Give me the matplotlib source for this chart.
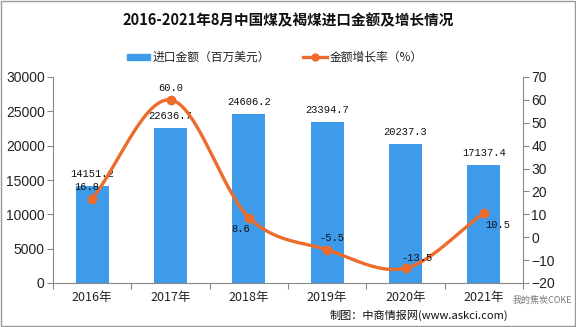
import numpy as np
import matplotlib
matplotlib.use("Agg")
import matplotlib.pyplot as plt
from matplotlib.patches import Rectangle

plt.rcParams['font.family'] = ['Noto Sans CJK SC', 'DejaVu Sans']

categories = ["2016年", "2017年", "2018年", "2019年", "2020年", "2021年"]
import_value = [14151.2, 22636.7, 24606.2, 23394.7, 20237.3, 17137.4]
growth_rate = [16.8, 60.0, 8.6, -5.5, -13.5, 10.5]
left_ticks = [0, 5000, 10000, 15000, 20000, 25000, 30000]
right_ticks = [-20, -10, 0, 10, 20, 30, 40, 50, 60, 70]

bar_color = "#3d9be9"
line_color = "#ee6c2b"

fig = plt.figure(figsize=(5.76, 3.27), dpi=100)
ax = fig.add_axes([53/576, 1-283/327, 470/576, 206/327])
x = np.arange(len(categories))
ax.bar(x, import_value, width=0.42, color=bar_color, zorder=2)
ax.set_xlim(-0.5, len(categories)-0.5)
ax.set_ylim(0, 30000)
ax.set_yticks(left_ticks)
ax.set_yticklabels([str(t) for t in left_ticks], family='Liberation Sans', fontsize=10, color='#222222')

ax.set_xticks(np.arange(-0.5, len(categories), 1.0))
ax.set_xticklabels([])
ax.set_xticks(x, minor=True)
ax.set_xticklabels(categories, minor=True, fontsize=9, color='#222222')
ax.tick_params(axis='x', which='major', length=4, color='#888888', direction='out')
ax.tick_params(axis='x', which='minor', length=0, pad=6)
ax.tick_params(axis='y', length=4, color='#888888', direction='out', pad=2)

for s in ['top', 'right']:
    ax.spines[s].set_visible(False)
for s in ['left', 'bottom']:
    ax.spines[s].set_color('#888888')

ax2 = ax.twinx()
ax2.set_ylim(-20, 70)
ax2.set_yticks(right_ticks)
ax2.set_yticklabels([str(t).replace('-', '−') for t in right_ticks], family='Liberation Sans', fontsize=10, color='#222222')
ax2.tick_params(axis='y', length=4, color='#888888', direction='out', pad=2)
for s in ['top', 'left', 'bottom']:
    ax2.spines[s].set_visible(False)
ax2.spines['right'].set_color('#888888')

# smooth (Catmull-Rom) rendering of the growth line through the data points
def catmull_rom(xs, ys, n=40):
    xs = np.asarray(xs, float); ys = np.asarray(ys, float)
    px = np.concatenate([[2*xs[0]-xs[1]], xs, [2*xs[-1]-xs[-2]]])
    py = np.concatenate([[2*ys[0]-ys[1]], ys, [2*ys[-1]-ys[-2]]])
    outx, outy = [], []
    for i in range(1, len(px)-2):
        t = np.linspace(0, 1, n)
        for arr, out in ((px, outx), (py, outy)):
            p0, p1, p2, p3 = arr[i-1], arr[i], arr[i+1], arr[i+2]
            out.extend(0.5*((2*p1) + (-p0+p2)*t + (2*p0-5*p1+4*p2-p3)*t**2 + (-p0+3*p1-3*p2+p3)*t**3))
    return np.array(outx), np.array(outy)

sx, sy = catmull_rom(x, growth_rate)
ax2.plot(sx, sy, color=line_color, lw=2.4, zorder=3, solid_capstyle='round')
ax2.plot(x, growth_rate, 'o', color=line_color, ms=6, zorder=4)

mono = 'Liberation Mono'
for xi, v in zip(x, import_value):
    ax.annotate(f"{v:.1f}", (xi, v), xytext=(0, 5), textcoords='offset points',
                ha='center', va='bottom', family=mono, fontsize=7.5, color='#111111', zorder=5)

offsets = [(-4, 5, 'bottom'), (0, 5, 'bottom'), (-6, -5, 'top'), (3, 5, 'bottom'), (8, 4, 'bottom'), (10, -5, 'top')]
for xi, v, (dx, dy, va) in zip(x, growth_rate, offsets):
    ax2.annotate(f"{v:.1f}", (xi, v), xytext=(dx, dy), textcoords='offset points',
                 ha='center', va=va, family=mono, fontsize=7.5, color='#111111', zorder=5)

# title
fig.text(288/576, 1-20/327, "2016-2021年8月中国煤及褐煤进口金额及增长情况", ha='center', va='center',
         fontsize=10.5, fontweight='bold', color='#111111')

# legend
fig.patches.append(Rectangle((127/576, 1-60/327), 23/576, 6/327, transform=fig.transFigure,
                             color=bar_color))
fig.text(153/576, 1-57/327, "进口金额（百万美元）", ha='left', va='center', fontsize=8.5, color='#222222')
fig.lines.append(plt.Line2D([303/576, 327/576], [1-57/327, 1-57/327], transform=fig.transFigure,
                            color=line_color, lw=2.4))
fig.lines.append(plt.Line2D([315/576], [1-57/327], transform=fig.transFigure, marker='o',
                            color=line_color, ms=5))
fig.text(330/576, 1-57/327, "金额增长率（%）", ha='left', va='center', fontsize=8.5, color='#222222')

# footer
fig.text(508/576, 1-315/327, "制图：中商情报网(www.askci.com)", ha='right', va='center', fontsize=8, color='#111111')
fig.text(572/576, 1-300/327, "我的焦炭COKE", ha='right', va='center', fontsize=6.5, color='#777777')

# outer frame
fig.patches.append(Rectangle((0.002, 0.003), 0.996, 0.994, transform=fig.transFigure,
                             fill=False, edgecolor='#999999', lw=1))

fig.savefig("out.png", dpi=100)
